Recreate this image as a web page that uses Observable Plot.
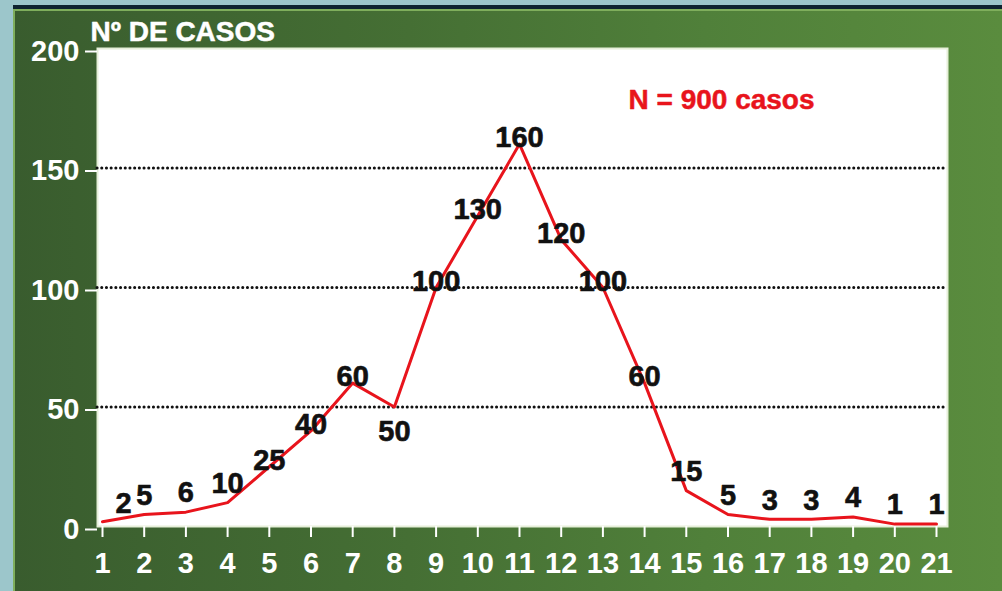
<!DOCTYPE html>
<html>
<head>
<meta charset="utf-8">
<script src="https://cdn.jsdelivr.net/npm/d3@7"></script>
<script src="https://cdn.jsdelivr.net/npm/@observablehq/plot@0.6"></script>
<style>
  html, body { margin: 0; padding: 0; }
  body { width: 1002px; height: 591px; overflow: hidden; background: #9cc6cb; position: relative; font-family: "Liberation Sans", Arial, sans-serif; }
  #bg { position: absolute; left: 13px; top: 5px; width: 989px; height: 586px; box-sizing: border-box;
        border-top: 4px solid #0e2330;
        background: linear-gradient(to right, #395c2e 0%, #456f34 40%, #50803a 70%, #5a8c3e 100%);
        box-shadow: inset 2px 2px 0 #7fae5c; }
  #chart { position: absolute; left: 0; top: 0; }
</style>
</head>
<body>
<div id="bg"></div>
<div id="chart"></div>
<script>
// Data
const days = [1, 2, 3, 4, 5, 6, 7, 8, 9, 10, 11, 12, 13, 14, 15, 16, 17, 18, 19, 20, 21];
const cases = [2, 5, 6, 10, 25, 40, 60, 50, 100, 130, 160, 120, 100, 60, 15, 5, 3, 3, 4, 1, 1];
const yTicks = [0, 50, 100, 150, 200];
const gridValues = [50, 100, 150];
const yTitle = "Nº DE CASOS";
const note = "N = 900 casos";

const data = days.map((d, i) => ({day: d, n: cases[i], i}));
const isLocalMin = (i) => i > 0 && i < cases.length - 1 && cases[i] < cases[i - 1] && cases[i] < cases[i + 1];

const labelStyle = {x: "day", y: "n", text: d => String(d.n), fill: "#111", stroke: "#111", strokeWidth: 0.6, fontSize: 29, fontWeight: "bold"};

const chart = Plot.plot({
  width: 1002,
  height: 591,
  marginLeft: 97,
  marginRight: 55,
  marginTop: 48,
  marginBottom: 65,
  style: {background: "transparent", fontFamily: "'Liberation Sans', Arial, sans-serif", fontWeight: "bold", overflow: "visible"},
  x: {domain: [1, 21], insetLeft: 5, insetRight: 11},
  y: {domain: [0, 200]},
  marks: [
    Plot.frame({fill: "white", stroke: "#e6efd9", strokeWidth: 2}),
    Plot.ruleY(gridValues, {stroke: "#111", strokeWidth: 3, strokeDasharray: "0.1,4.6", strokeLinecap: "round"}),
    Plot.line(data, {x: "day", y: "n", stroke: "#e8141c", strokeWidth: 3}),
    // first point label, shifted right
    Plot.text(data.filter(d => d.i === 0), {...labelStyle, dx: 21, dy: -18}),
    // small values, raised above the line
    Plot.text(data.filter(d => d.i > 0 && d.n <= 20), {...labelStyle, dy: -19}),
    // local minimum, placed below
    Plot.text(data.filter(d => isLocalMin(d.i)), {...labelStyle, dy: 25}),
    // others, near the point
    Plot.text(data.filter(d => d.n > 20 && !isLocalMin(d.i)), {...labelStyle, dy: -6}),
    Plot.axisY({ticks: yTicks, tickSize: 12, tickPadding: 6, color: "white", stroke: "white", strokeWidth: 2, fontSize: 29, fontWeight: "bold", dy: 3, tickFormat: d => String(d), label: null}),
    Plot.axisX({ticks: days, tickSize: 11, insetTop: 4, tickPadding: 15, color: "white", stroke: "white", strokeWidth: 2, fontSize: 29, fontWeight: "bold", tickFormat: d => String(d), label: null}),
    Plot.text([yTitle], {frameAnchor: "top-left", text: d => d, fill: "white", stroke: "white", strokeWidth: 0.5, fontSize: 28, fontWeight: "bold", textAnchor: "start", lineAnchor: "middle", dx: -7, dy: -16}),
    Plot.text([note], {frameAnchor: "top-left", text: d => d, fill: "#e8141c", stroke: "#e8141c", strokeWidth: 0.5, fontSize: 28, fontWeight: "bold", textAnchor: "start", lineAnchor: "middle", dx: 531, dy: 52})
  ]
});
document.getElementById("chart").appendChild(chart);
</script>
</body>
</html>
